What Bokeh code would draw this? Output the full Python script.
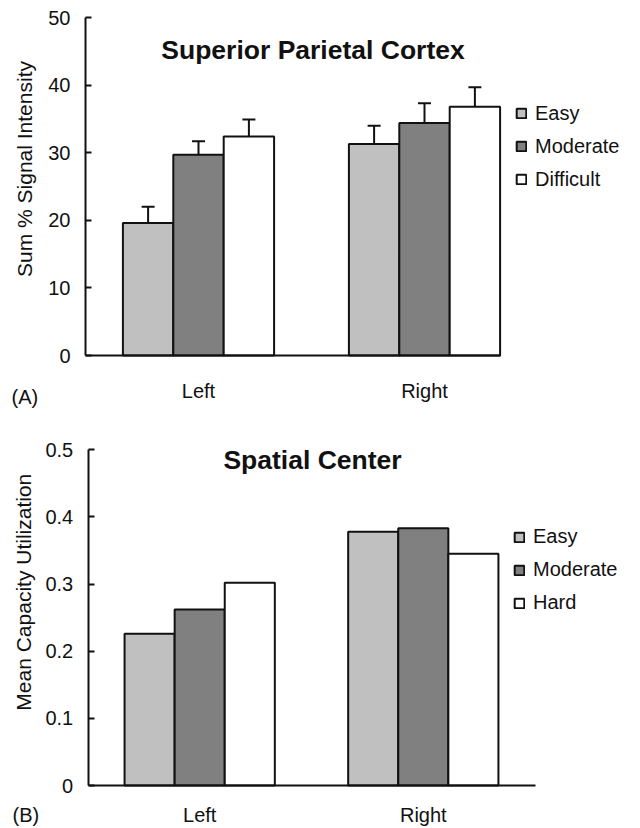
import math
from bokeh.plotting import figure
from bokeh.models import (Range1d, FixedTicker, Legend, LegendItem, Label,
                          ColumnDataSource, Whisker, TeeHead)
from bokeh.layouts import column
from bokeh.embed import file_html
from bokeh.resources import INLINE

# ---------------- data ----------------
sides = ["Left", "Right"]

a_conditions = ["Easy", "Moderate", "Difficult"]
a_easy = [19.6, 31.3]
a_moderate = [29.7, 34.4]
a_difficult = [32.4, 36.8]
a_err_easy = [2.4, 2.7]
a_err_moderate = [2.0, 2.9]
a_err_difficult = [2.5, 2.9]
a_yticks = [0, 10, 20, 30, 40, 50]
a_ylabels = ["0", "10", "20", "30", "40", "50"]

b_conditions = ["Easy", "Moderate", "Hard"]
b_easy = [0.226, 0.378]
b_moderate = [0.262, 0.383]
b_hard = [0.302, 0.345]
b_yticks = [0, 0.1, 0.2, 0.3, 0.4, 0.5]
b_ylabels = ["0", "0.1", "0.2", "0.3", "0.4", "0.5"]

# ---------------- style ----------------
FONT = "Liberation Sans"
FILLS = ["#c0c0c0", "#808080", "#ffffff"]
INK = "#111111"
W = 632


def make_panel(title, ylabel, series, errs, names, yticks, ylabels, ymax,
               height, px_per_x, left_center_px, axis_x0, axis_x1, bar_w,
               zero_px, top_px, x_standoff, ylabel_xy, legend_loc,
               title_xy, tag, tag_xy):
    # layout: the frame covers the whole canvas; axes sit at fixed places
    x_start = -left_center_px / px_per_x
    x_end = x_start + W / px_per_x
    px_per_y = (zero_px - top_px) / ymax
    y_start = -(height - zero_px) / px_per_y
    y_end = zero_px / px_per_y

    p = figure(width=W, height=height,
               x_range=Range1d(x_start, x_end), y_range=Range1d(y_start, y_end),
               output_backend="svg", toolbar_location=None,
               min_border_left=0, min_border_right=0,
               min_border_top=0, min_border_bottom=0)
    p.xgrid.visible = False
    p.ygrid.visible = False
    p.outline_line_color = None
    p.background_fill_color = "white"
    p.border_fill_color = "white"

    xs = list(range(len(sides)))
    items = []
    for j, (vals, name) in enumerate(zip(series, names)):
        data = dict(x=[i + (j - 1) * bar_w for i in xs], top=vals)
        if errs is not None:
            data["upper"] = [v + e for v, e in zip(vals, errs[j])]
        src = ColumnDataSource(data)
        r = p.vbar(x="x", top="top", bottom=0, width=bar_w, source=src,
                   fill_color=FILLS[j], line_color=INK, line_width=2)
        items.append(LegendItem(label=name, renderers=[r]))
        if errs is not None:
            w = Whisker(source=src, base="x", lower="top", upper="upper",
                        line_color=INK, line_width=2, lower_head=None,
                        upper_head=TeeHead(size=13, line_color=INK, line_width=2))
            p.add_layout(w)

    # x axis
    xa = p.xaxis[0]
    xa.fixed_location = 0
    xa.bounds = (axis_x0, axis_x1)
    xa.ticker = FixedTicker(ticks=xs, minor_ticks=[])
    xa.major_label_overrides = {i: s for i, s in enumerate(sides)}
    xa.major_tick_in = 0
    xa.major_tick_out = 0
    xa.minor_tick_line_color = None
    xa.major_tick_line_color = None
    xa.axis_line_color = INK
    xa.axis_line_width = 2
    xa.major_label_standoff = x_standoff
    xa.major_label_text_font = FONT
    xa.major_label_text_font_size = "20px"
    xa.major_label_text_color = INK

    # y axis
    ya = p.yaxis[0]
    ya.fixed_location = axis_x0
    ya.bounds = (0, ymax)
    ya.ticker = FixedTicker(ticks=yticks, minor_ticks=[])
    ya.major_label_overrides = dict(zip(yticks, ylabels))
    ya.major_tick_in = 6
    ya.major_tick_out = 0
    ya.major_tick_line_color = INK
    ya.major_tick_line_width = 2
    ya.minor_tick_line_color = None
    ya.axis_line_color = INK
    ya.axis_line_width = 2
    ya.major_label_standoff = 15
    ya.major_label_text_font = FONT
    ya.major_label_text_font_size = "20px"
    ya.major_label_text_color = INK

    # y axis title (rotated, placed as in the reference)
    p.add_layout(Label(x=ylabel_xy[0], y=ylabel_xy[1], x_units="screen",
                       y_units="screen", text=ylabel, angle=math.pi / 2,
                       text_font=FONT, text_font_size="21px",
                       text_align="center", text_baseline="middle",
                       text_color=INK))

    leg = Legend(items=items, location=legend_loc, padding=0, spacing=1,
                 margin=0, label_height=32, glyph_width=12, glyph_height=12,
                 label_standoff=8, border_line_alpha=0,
                 background_fill_alpha=0, label_text_font=FONT,
                 label_text_font_size="20px", label_text_color=INK)
    p.add_layout(leg)

    p.add_layout(Label(x=title_xy[0], y=title_xy[1], x_units="screen",
                       y_units="screen", text=title, text_font=FONT,
                       text_font_style="bold", text_font_size="26.5px",
                       text_align="center", text_baseline="middle",
                       text_color=INK))
    p.add_layout(Label(x=tag_xy[0], y=tag_xy[1], x_units="screen",
                       y_units="screen", text=tag, text_font=FONT,
                       text_font_size="20px", text_align="left",
                       text_baseline="middle", text_color=INK))
    return p


HA = 410
HB = 418

pA = make_panel("Superior Parietal Cortex", "Sum % Signal Intensity",
                [a_easy, a_moderate, a_difficult],
                [a_err_easy, a_err_moderate, a_err_difficult],
                a_conditions, a_yticks, a_ylabels, 50,
                HA, 226, 198, -0.5, 1.336, 0.223,
                355, 17, 24, (24, HA - 168.5), (515, HA - 195),
                (312.5, HA - 49.3), "(A)", (11, HA - 396))

pB = make_panel("Spatial Center", "Mean Capacity Utilization",
                [b_easy, b_moderate, b_hard], None,
                b_conditions, b_yticks, b_ylabels, 0.5,
                HB, 223.6, 199.2, -0.4987, 1.502, 0.224,
                785 - HA, 449.3 - HA, 18, (23, HB - (591.7 - HA)),
                (513, HB - (618.7 - HA)), (312, HB - (459.7 - HA)),
                "(B)", (12, HB - (814 - HA)))

layout = column(pA, pB, spacing=0)
open("out.html", "w").write(file_html(layout, INLINE))
